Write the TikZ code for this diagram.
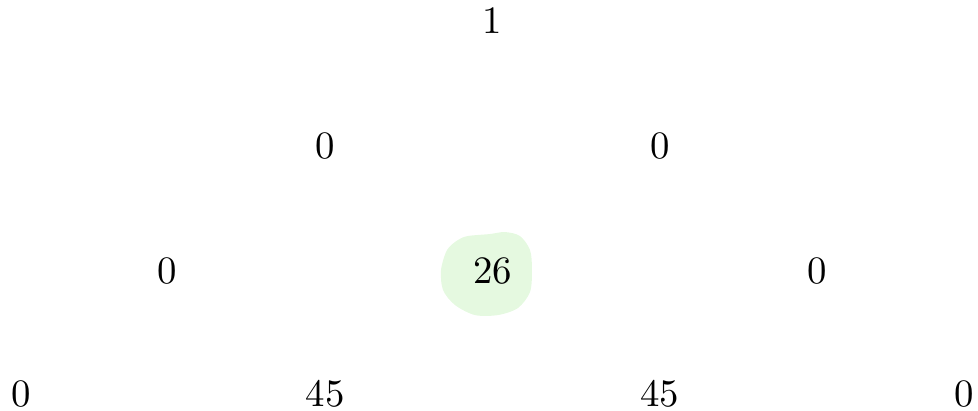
\documentclass[tikz,border=0pt]{standalone}
\definecolor{blobgreen}{RGB}{229,249,224}
\begin{document}
\begin{tikzpicture}[val/.style={inner sep=0pt}]
    \useasboundingbox (-4.461,-1.268) rectangle (4.398,2.455);
    % highlight behind the middle entry
    \fill[blobgreen] plot[smooth cycle] coordinates {(-0.222,0.317) (-0.023,0.335) (0.113,0.353) (0.249,0.317) (0.340,0.190) (0.358,0.009) (0.340,-0.190) (0.231,-0.335) (0.050,-0.399) (-0.159,-0.399) (-0.340,-0.308) (-0.448,-0.172) (-0.466,0.009) (-0.412,0.190) (-0.313,0.281)};

    \node[val] (TopOne) at (0,2.264) {1};

    \node[val] (SecondLeft) at (-1.517,1.132) {0};
    \node[val] (SecondRight) at (1.517,1.132) {0};

    \node[val] (ThirdLeft) at (-2.944,0) {0};
    \node[val] (ThirdMid) at (0,0) {26};
    \node[val] (ThirdRight) at (2.944,0) {0};

    \node[val] (FourthA) at (-4.271,-1.114) {0};
    \node[val] (FourthB) at (-1.517,-1.114) {45};
    \node[val] (FourthC) at (1.517,-1.114) {45};
    \node[val] (FourthD) at (4.271,-1.114) {0};
\end{tikzpicture}
\end{document}
